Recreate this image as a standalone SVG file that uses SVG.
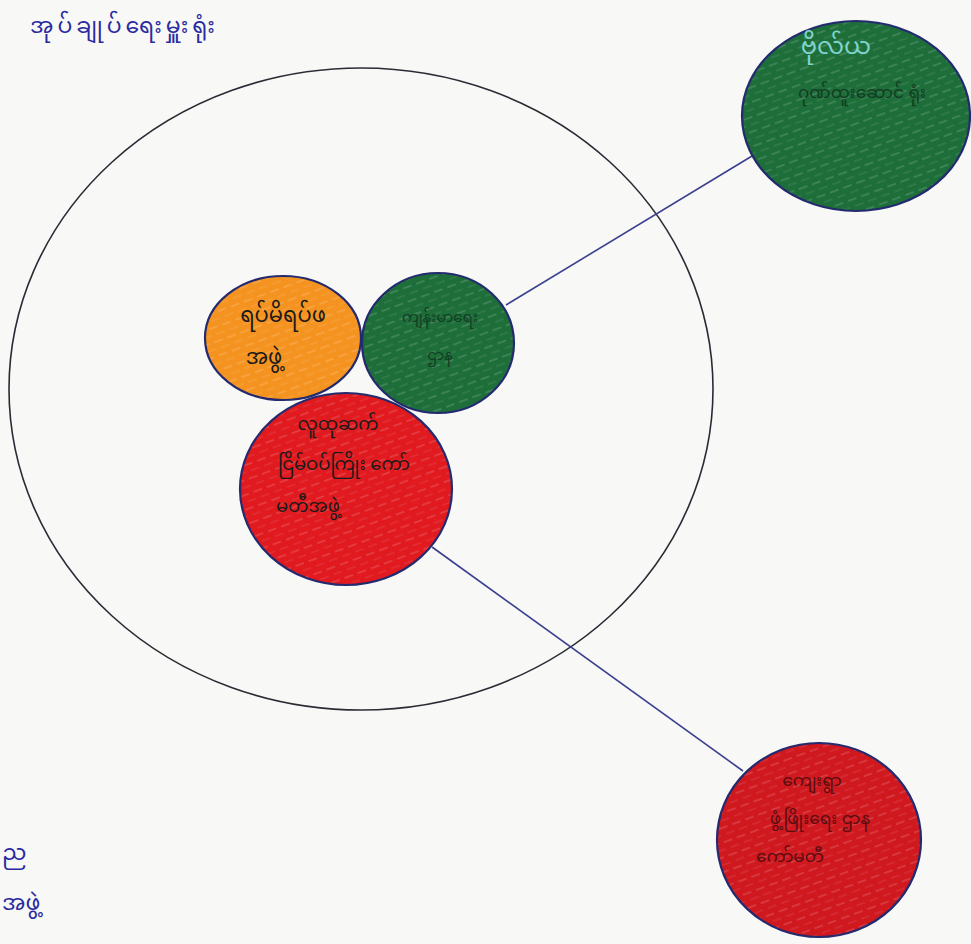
<svg xmlns="http://www.w3.org/2000/svg" width="971" height="944" viewBox="0 0 971 944">
<style>
.bg{fill:#f8f8f6}
.ring{fill:none;stroke:#2b2b35;stroke-width:1.6}
.node{stroke:#232a6e;stroke-width:2.2}
.green{fill:#1e6e3a}
.orange{fill:#f59320}
.red{fill:#e01a1f}
.red2{fill:#d0181f}
.conn{stroke:#3a3f8f;stroke-width:1.6;fill:none}
.t{font-family:"Noto Sans Myanmar","Myanmar Text","Padauk","Noto Sans","DejaVu Sans",sans-serif;fill:#1a1a1a;text-anchor:middle}
.title{font-family:"Noto Sans Myanmar","Myanmar Text","Padauk","Noto Sans","DejaVu Sans",sans-serif;fill:#2a2aa0;font-size:22px}
</style>
<defs>
<pattern id="streak" width="14" height="14" patternUnits="userSpaceOnUse" patternTransform="rotate(-20)">
<line x1="0" y1="3" x2="9" y2="3" stroke="#ffffff" stroke-opacity="0.18" stroke-width="1.5"/>
<line x1="5" y1="10" x2="14" y2="10" stroke="#ffffff" stroke-opacity="0.12" stroke-width="1.2"/>
</pattern>
</defs>
<rect class="bg" x="0" y="0" width="971" height="944"/>
<text class="title" x="30" y="33" letter-spacing="4">အုပ်ချုပ်ရေးမှူးရုံး</text>
<g id="community">
<ellipse class="ring" cx="361" cy="389" rx="352" ry="321"/>
</g>
<g id="connectors">
<line class="conn" x1="506" y1="305" x2="757" y2="153"/>
<line class="conn" x1="432" y1="547" x2="743" y2="771"/>
</g>
<g id="elders">
<ellipse class="node orange" cx="283" cy="338" rx="78" ry="62"/>
<ellipse fill="url(#streak)" cx="283" cy="338" rx="77" ry="61"/>
<text class="t" x="283" y="322" font-size="21">ရပ်မိရပ်ဖ</text>
<text class="t" x="264" y="364" font-size="21">အဖွဲ့</text>
</g>
<g id="health">
<ellipse class="node green" cx="438" cy="343" rx="76" ry="70"/>
<ellipse fill="url(#streak)" cx="438" cy="343" rx="75" ry="69"/>
<text class="t" x="440" y="322" font-size="15" style="fill:#123d22">ကျန်းမာရေး</text>
<text class="t" x="440" y="360" font-size="15" style="fill:#123d22">ဌာန</text>
</g>
<g id="committee">
<ellipse class="node red" cx="346" cy="489" rx="106" ry="96"/>
<ellipse fill="url(#streak)" cx="346" cy="489" rx="105" ry="95"/>
<text class="t" x="338" y="430" font-size="18">လူထုဆက်</text>
<text class="t" x="344" y="470" font-size="18">ငြိမ်ဝပ်ကြိုး ကော်</text>
<text class="t" x="308" y="512" font-size="18">မတီအဖွဲ့</text>
</g>
<g id="outer-green">
<ellipse class="node green" cx="856" cy="116" rx="114" ry="95"/>
<ellipse fill="url(#streak)" cx="856" cy="116" rx="113" ry="94"/>
<text class="t" x="836" y="54" font-size="24" style="fill:#7fd4cf">ဗိုလ်ယ</text>
<text class="t" x="862" y="98" font-size="17" style="fill:#123d22">ဂုဏ်ထူးဆောင် ရုံး</text>
</g>
<g id="outer-red">
<ellipse class="node red2" cx="819" cy="840" rx="102" ry="97"/>
<ellipse fill="url(#streak)" cx="819" cy="840" rx="101" ry="96"/>
<text class="t" x="812" y="786" font-size="17" style="fill:#5a0d10">ကျေးရွာ</text>
<text class="t" x="820" y="824" font-size="17" style="fill:#5a0d10">ဖွံ့ဖြိုးရေး ဌာန</text>
<text class="t" x="790" y="862" font-size="17" style="fill:#5a0d10">ကော်မတီ</text>
</g>
<text class="title" x="2" y="860" font-size="20">ည</text>
<text class="title" x="2" y="910" font-size="20">အဖွဲ့</text>
</svg>
